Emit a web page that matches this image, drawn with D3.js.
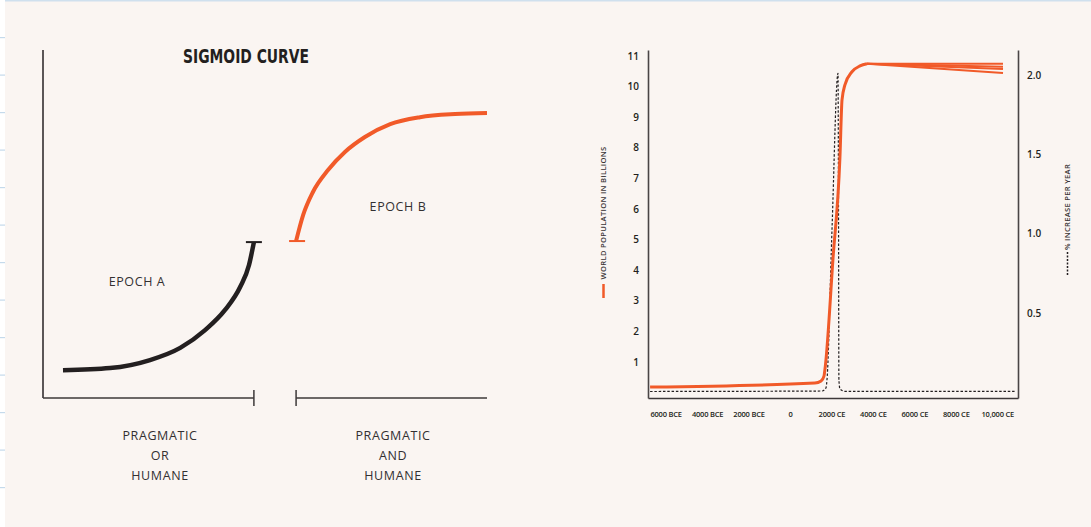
<!DOCTYPE html>
<html>
<head>
<meta charset="utf-8">
<script src="https://cdn.jsdelivr.net/npm/d3@7"></script>
<style>
  html, body { margin: 0; padding: 0; background: #faf5f2; }
  svg { display: block; }
  text { font-family: "Open Sans", "Liberation Sans", sans-serif; fill: #2e2a2b; }
</style>
</head>
<body>
<script>
"use strict";
// ---- data ----
// left panel (conceptual sigmoid), units 0..100 on both axes
const epochA = [[4.5, 8.0], [15.1, 8.6], [24.1, 10.9], [30.9, 14.4], [36.5, 19.5], [41.0, 25.3], [44.4, 31.9], [46.4, 38.2], [47.5, 44.8]];
const epochB = [[57.0, 45.1], [58.6, 52.6], [60.8, 59.2], [64.2, 65.5], [68.0, 70.7], [72.5, 75.0], [78.2, 78.7], [84.9, 80.7], [92.8, 81.6], [100, 81.9]];
const epochLabels = ["EPOCH A", "EPOCH B"];
const bottomLabels = [["PRAGMATIC", "OR", "HUMANE"], ["PRAGMATIC", "AND", "HUMANE"]];

// right panel: world population (billions) by year
const popYears = [-6750, 1200, 1500, 1640, 1710, 2070, 2410, 2510, 2650, 2990, 3380, 3715];
const popValues = [0.18, 0.31, 0.38, 0.54, 0.90, 4.33, 7.69, 9.56, 10.05, 10.48, 10.67, 10.74];
const fanEndYear = 10276;
const fanEndValues = [10.74, 10.64, 10.57, 10.44];
// growth rate (% per year)
const rateYears = [-6750, 1540, 1735, 1785, 2025, 2316, 2340, 2360, 2412, 2650, 10855];
const rateValues = [0.007, 0.01, 0.03, 0.08, 1.02, 2.01, 1.21, 0.08, 0.023, 0.008, 0.008];

const xTicks = [-6000, -4000, -2000, 0, 2000, 4000, 6000, 8000, 10000];
const xTickLabels = ["6000 BCE", "4000 BCE", "2000 BCE", "0", "2000 CE", "4000 CE", "6000 CE", "8000 CE", "10,000 CE"];
const popTicks = [1, 2, 3, 4, 5, 6, 7, 8, 9, 10, 11];
const rateTicks = [0.5, 1.0, 1.5, 2.0];

const ORANGE = "#f15a29", DARK = "#231f20", AXIS = "#4a4546";

const W = 1091, H = 527;
const svg = d3.select("body").append("svg").attr("width", W).attr("height", H);

// page decoration: top rule and left ruler strip
svg.append("rect").attr("width", W).attr("height", H).attr("fill", "#faf5f2");
svg.append("rect").attr("x", 0).attr("y", 0).attr("width", W).attr("height", 1.5).attr("fill", "#cfe0ee");
svg.append("rect").attr("x", 0).attr("y", 0).attr("width", 5).attr("height", H).attr("fill", "#ffffff");
svg.selectAll("rect.rule").data(d3.range(1, 14)).enter().append("rect")
    .attr("class", "rule").attr("x", 0).attr("width", 5).attr("height", 1.2)
    .attr("y", d => d * 37.5 - 0.5).attr("fill", "#c5daeb");

// ---------- left panel ----------
const lx = d3.scaleLinear().domain([0, 100]).range([43, 487]);
const ly = d3.scaleLinear().domain([0, 100]).range([398, 50]);
const left = svg.append("g");

left.append("line").attr("x1", lx(0)).attr("x2", lx(0)).attr("y1", ly(100)).attr("y2", ly(0))
    .attr("stroke", "#5b5657").attr("stroke-width", 2);
// split baseline
const segs = [[0, 47.5], [57.0, 100]];
segs.forEach(s => {
  left.append("line").attr("x1", lx(s[0])).attr("x2", lx(s[1])).attr("y1", ly(0)).attr("y2", ly(0))
      .attr("stroke", "#3d3839").attr("stroke-width", 1.5);
});
[47.5, 57.0].forEach(t => {
  left.append("line").attr("x1", lx(t)).attr("x2", lx(t)).attr("y1", ly(0) - 8).attr("y2", ly(0) + 8)
      .attr("stroke", "#3d3839").attr("stroke-width", 1.5);
});

left.append("text").attr("x", 246).attr("y", 63).attr("text-anchor", "middle")
    .attr("textLength", 126).attr("lengthAdjust", "spacingAndGlyphs")
    .style("font-family", "'Liberation Sans Narrow', 'DejaVu Sans Condensed', 'Liberation Sans', sans-serif")
    .style("font-weight", "bold").style("font-size", "20px").style("fill", DARK)
    .text("SIGMOID CURVE");

const lline = d3.line().x(d => lx(d[0])).y(d => ly(d[1])).curve(d3.curveMonotoneX);
left.append("path").attr("d", lline(epochA)).attr("fill", "none").attr("stroke", DARK).attr("stroke-width", 4.5);
left.append("path").attr("d", lline(epochB)).attr("fill", "none").attr("stroke", ORANGE).attr("stroke-width", 4);
// end caps
left.append("line").attr("x1", lx(47.5) - 8).attr("x2", lx(47.5) + 8)
    .attr("y1", ly(epochA[epochA.length - 1][1])).attr("y2", ly(epochA[epochA.length - 1][1]))
    .attr("stroke", DARK).attr("stroke-width", 2);
left.append("line").attr("x1", lx(57.0) - 7).attr("x2", lx(57.0) + 9)
    .attr("y1", ly(epochB[0][1])).attr("y2", ly(epochB[0][1]))
    .attr("stroke", ORANGE).attr("stroke-width", 2);

const bodyText = t => t.style("font-size", "12.5px").style("letter-spacing", "0.6px").style("fill", "#333031");
left.append("text").attr("x", 137).attr("y", 286).attr("text-anchor", "middle")
    .call(bodyText).text(epochLabels[0]);
left.append("text").attr("x", 398).attr("y", 211).attr("text-anchor", "middle")
    .call(bodyText).text(epochLabels[1]);

[160, 393].forEach((cx, i) => {
  left.append("text").attr("text-anchor", "middle").call(bodyText)
      .selectAll("tspan").data(bottomLabels[i]).enter().append("tspan")
      .attr("x", cx).attr("y", (d, j) => 440 + j * 20).text(d => d);
});

// ---------- right panel ----------
const x = d3.scaleLinear().domain([-6850, 11000]).range([648, 1018]);
const yP = d3.scaleLinear().domain([-0.176, 11.19]).range([398, 50]);
const yR = d3.scaleLinear().domain([-0.034, 2.157]).range([398, 50]);
const right = svg.append("g");

const tickFont = g => g.selectAll("text")
    .style("font-family", "'Open Sans', sans-serif").style("font-weight", "600").style("fill", DARK);

const gx = right.append("g").attr("transform", "translate(0,398)")
    .call(d3.axisBottom(x).tickValues(xTicks).tickFormat((d, i) => xTickLabels[i]).tickSize(0).tickPadding(14));
gx.select(".domain").attr("stroke", "#3d3839").attr("stroke-width", 1.5);
gx.call(tickFont).selectAll("text").style("font-size", "7.5px").style("letter-spacing", "-0.2px");

const gl = right.append("g").attr("transform", "translate(648,0)")
    .call(d3.axisLeft(yP).tickValues(popTicks).tickFormat(d3.format("d")).tickSize(0).tickPadding(9));
gl.select(".domain").attr("stroke", AXIS).attr("stroke-width", 1.6);
gl.call(tickFont).selectAll("text").style("font-size", "10px");

const gr = right.append("g").attr("transform", "translate(1018,0)")
    .call(d3.axisRight(yR).tickValues(rateTicks).tickFormat(d3.format(".1f")).tickSize(0).tickPadding(9));
gr.select(".domain").attr("stroke", AXIS).attr("stroke-width", 1.6);
gr.call(tickFont).selectAll("text").style("font-size", "10px");

// growth rate, dashed
const rateData = rateYears.map((y, i) => [y, rateValues[i]]);
right.append("path")
    .attr("d", d3.line().x(d => x(d[0])).y(d => yR(d[1])).curve(d3.curveMonotoneX)(rateData))
    .attr("fill", "none").attr("stroke", DARK).attr("stroke-width", 1.2).attr("stroke-dasharray", "2.5,1.8");

// population, with fan of projections
const popData = popYears.map((y, i) => [y, popValues[i]]);
const pline = d3.line().x(d => x(d[0])).y(d => yP(d[1])).curve(d3.curveMonotoneX);
const last = popData[popData.length - 1];
right.selectAll("path.fan").data(fanEndValues).enter().append("path").attr("class", "fan")
    .attr("d", v => d3.line().x(d => x(d[0])).y(d => yP(d[1]))([last, [fanEndYear, v]]))
    .attr("fill", "none").attr("stroke", ORANGE).attr("stroke-width", 2);
right.append("path").attr("d", pline(popData))
    .attr("fill", "none").attr("stroke", ORANGE).attr("stroke-width", 3);

// axis titles
right.append("text").attr("transform", "translate(606,213) rotate(-90)").attr("text-anchor", "middle")
    .style("font-size", "7.6px").style("font-weight", "600").style("letter-spacing", "0.3px").style("fill", "#3a3536")
    .text("WORLD POPULATION IN BILLIONS");
right.append("line").attr("x1", 603.5).attr("x2", 603.5).attr("y1", 284).attr("y2", 298)
    .attr("stroke", ORANGE).attr("stroke-width", 2.5);

right.append("text").attr("transform", "translate(1070,207) rotate(-90)").attr("text-anchor", "middle")
    .style("font-size", "7.6px").style("font-weight", "600").style("letter-spacing", "0.3px").style("fill", "#3a3536")
    .text("% INCREASE PER YEAR");
right.append("line").attr("x1", 1067.5).attr("x2", 1067.5).attr("y1", 252).attr("y2", 275)
    .attr("stroke", DARK).attr("stroke-width", 1.5).attr("stroke-dasharray", "2,1.5");
</script>
</body>
</html>
